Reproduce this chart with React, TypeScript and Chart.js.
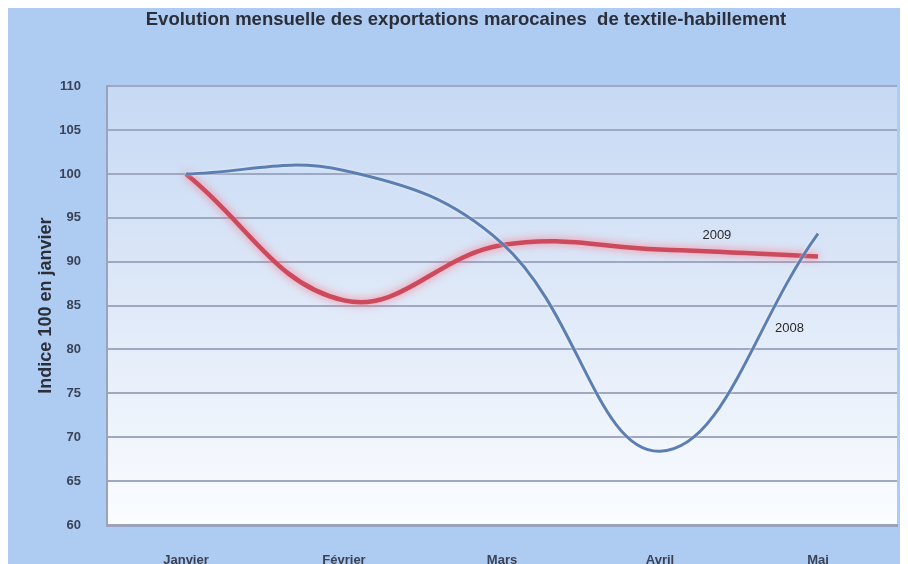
import React, { useEffect, useRef } from "react";
import { Chart, registerables } from "chart.js";

Chart.register(...registerables);

const months = ["Janvier", "Février", "Mars", "Avril", "Mai"];
const series2008 = [100, 100.4, 92.1, 68.4, 93.2];
const series2009 = [100, 85.6, 91.9, 91.4, 90.6];
const yTicks = [60, 65, 70, 75, 80, 85, 90, 95, 100, 105, 110];
const titleText = "Evolution mensuelle des exportations marocaines  de textile-habillement";
const yTitleText = "Indice 100 en janvier";
// series name labels: [text, category index (fractional), value]
const seriesLabels: [string, number, number][] = [
  ["2009", 3.36, 93.0],
  ["2008", 3.82, 82.4],
];

const FONT = "'Liberation Sans', Arial, sans-serif";

export default function App() {
  const ref = useRef<HTMLCanvasElement | null>(null);

  useEffect(() => {
    const canvas = ref.current;
    if (!canvas) return;

    const bgPlugin = {
      id: "bgPlugin",
      beforeDraw(chart: any) {
        const { ctx, chartArea, width, height } = chart;
        ctx.save();
        ctx.fillStyle = "#aecbf2";
        ctx.fillRect(0, 0, width, height);
        const g = ctx.createLinearGradient(0, chartArea.top, 0, chartArea.bottom);
        g.addColorStop(0, "#c6d9f4");
        g.addColorStop(0.5, "#dfe9f8");
        g.addColorStop(1, "#fbfdff");
        ctx.fillStyle = g;
        ctx.fillRect(chartArea.left, chartArea.top, chartArea.right - chartArea.left, chartArea.bottom - chartArea.top);
        ctx.restore();
      },
    };

    const shadowPlugin = {
      id: "shadowPlugin",
      beforeDatasetDraw(chart: any, args: any) {
        const ctx = chart.ctx;
        ctx.save();
        if (args.index === 1) {
          ctx.shadowColor = "rgba(255,110,130,0.9)";
          ctx.shadowBlur = 8;
        } else {
          ctx.shadowColor = "rgba(255,255,255,0.6)";
          ctx.shadowBlur = 3;
        }
      },
      afterDatasetDraw(chart: any) {
        chart.ctx.restore();
      },
    };

    const labelPlugin = {
      id: "labelPlugin",
      afterDatasetsDraw(chart: any) {
        const { ctx, scales } = chart;
        ctx.save();
        ctx.font = "13px " + FONT;
        ctx.fillStyle = "#2a2a2a";
        ctx.textAlign = "center";
        ctx.textBaseline = "middle";
        for (const [t, xi, v] of seriesLabels) {
          const i0 = Math.floor(xi);
          const f = xi - i0;
          const x0 = scales.x.getPixelForValue(i0);
          const x1 = scales.x.getPixelForValue(i0 + 1);
          ctx.fillText(t, x0 + (x1 - x0) * f, scales.y.getPixelForValue(v));
        }
        ctx.restore();
      },
    };

    const chart = new Chart(canvas, {
      type: "line",
      data: {
        labels: months,
        datasets: [
          {
            label: "2008",
            data: series2008,
            borderColor: "#5b7fb3",
            borderWidth: 3,
            pointRadius: 0,
            tension: 0.4,
            fill: false,
          },
          {
            label: "2009",
            data: series2009,
            borderColor: "#cc4a5c",
            borderWidth: 4.5,
            pointRadius: 0,
            tension: 0.4,
            fill: false,
          },
        ],
      },
      options: {
        responsive: true,
        maintainAspectRatio: false,
        animation: false,
        devicePixelRatio: 1,
        layout: { padding: { left: 27, right: 11, top: 0, bottom: 9 } },
        plugins: {
          legend: { display: false },
          tooltip: { enabled: false },
          title: {
            display: true,
            text: titleText,
            color: "#2b2f3a",
            font: { family: FONT, size: 18.5, weight: "bold" },
            padding: { top: 1, bottom: 55 },
          },
        },
        scales: {
          x: {
            offset: true,
            grid: { display: false, drawTicks: false },
            border: { display: true, color: "#9aa3ba", width: 3 },
            ticks: {
              color: "#3a4256",
              padding: 28,
              font: { family: FONT, size: 13, weight: "bold" },
            },
            afterFit: (s: any) => {
              s.height = 42;
            },
          },
          y: {
            min: 60,
            max: 110,
            afterBuildTicks: (s: any) => {
              s.ticks = yTicks.map((v) => ({ value: v }));
            },
            grid: { color: "#9fa8c2", lineWidth: 2, drawTicks: false },
            border: { display: true, color: "#9aa3ba", width: 2 },
            ticks: {
              color: "#3a4256",
              padding: 26,
              font: { family: FONT, size: 13, weight: "bold" },
            },
            title: {
              display: true,
              text: yTitleText,
              color: "#2b2f3a",
              font: { family: FONT, size: 18, weight: "bold" },
              padding: 0,
            },
            afterFit: (s: any) => {
              s.width = 72;
            },
          },
        },
      },
      plugins: [bgPlugin, shadowPlugin, labelPlugin],
    });

    return () => chart.destroy();
  }, []);

  return (
    <div style={{ width: 900, height: 556, overflow: "hidden" }}>
      <div style={{ position: "relative", width: 900, height: 568 }}>
        <canvas ref={ref} style={{ display: "block" }} />
      </div>
    </div>
  );
}
